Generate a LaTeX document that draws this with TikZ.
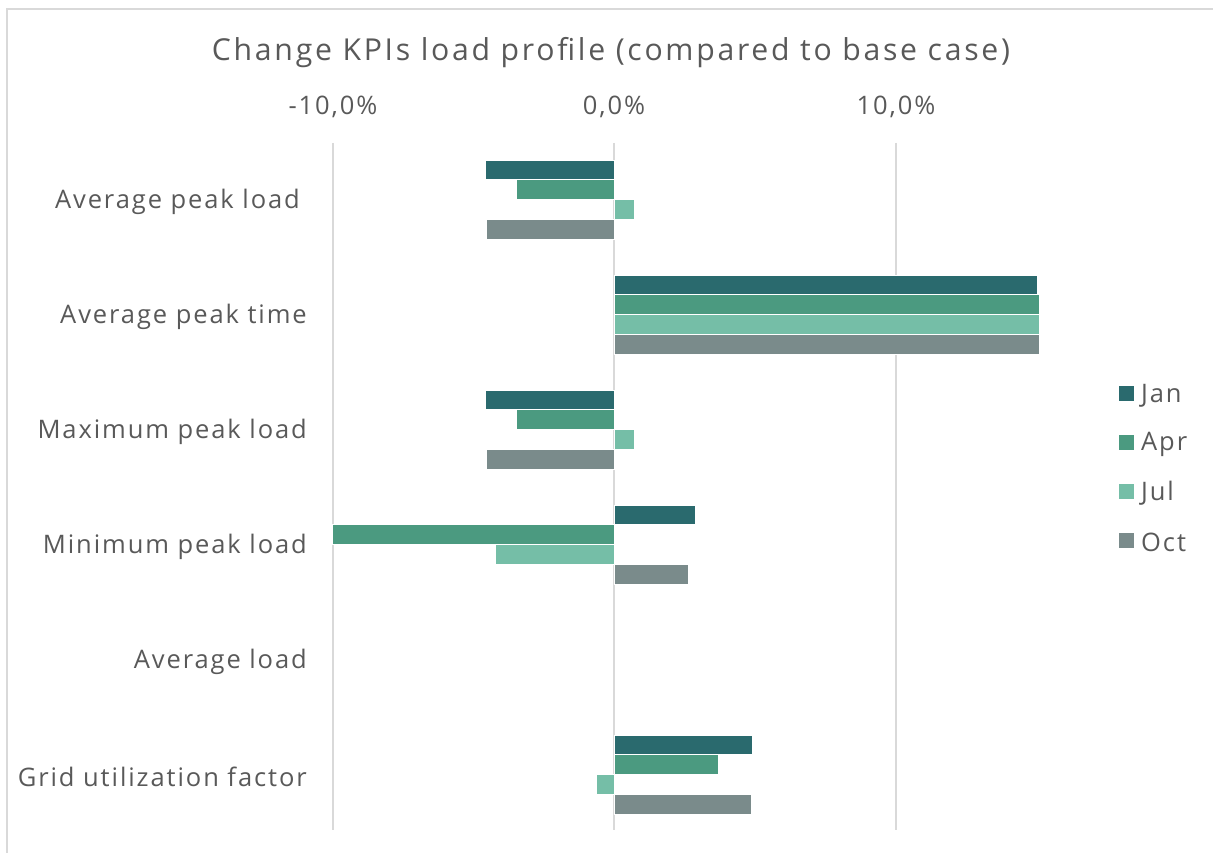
\documentclass[tikz,border=0pt]{standalone}
\usepackage{fontspec}
\setmainfont{Open Sans}[LetterSpace=7.5]
\newfontfamily\titlefont{Open Sans}[LetterSpace=9]
\definecolor{cjan}{HTML}{2A6A6E}
\definecolor{capr}{HTML}{4B9A80}
\definecolor{cjul}{HTML}{75BEA7}
\definecolor{coct}{HTML}{7A8B8B}
\definecolor{txt}{HTML}{595959}
\definecolor{gridc}{HTML}{D9D9D9}
% bar: category index, series index, value in %, colour
\newcommand\kbar[4]{%
  \filldraw[#4, draw=white, line width=0.7]
    (614,{160+115*#1+19.75*#2}) rectangle ({614+28.15*(#3)},{160+115*#1+19.75*(#2+1)});}
\begin{document}
\begin{tikzpicture}[x=1pt,y=-1pt,
  every node/.style={text=txt, inner sep=0pt},
  catlabel/.style={anchor=east, font=\fontsize{25.5}{30}\selectfont},
  ticklabel/.style={font=\fontsize{25.5}{30}\selectfont},
  titlelabel/.style={font=\titlefont\fontsize{30.2}{34}\selectfont},
  legsq/.style={minimum size=15pt, draw=none},
  legtext/.style={anchor=west, font=\fontsize{25.5}{30}\selectfont},
  gridline/.style={draw=gridc, line width=1.6},
  frame/.style={draw=gridc, line width=2}]
\useasboundingbox (0,0) rectangle (1213,853);
\fill[white] (0,0) rectangle (1213,853);
\draw[frame] (6.5,853) -- (6.5,9.5) -- (1213,9.5);

% title and axis labels
\node[titlelabel] (title) at (611,52.5) {Change KPIs load profile (compared to base case)};
\node[ticklabel] (tm10) at (333,106.5) {-10,0\%};
\node[ticklabel] (t0) at (614,106.5) {0,0\%};
\node[ticklabel] (tp10) at (896,106.5) {10,0\%};

% vertical gridlines
\coordinate (gm10) at (333,830);
\coordinate (g0) at (614,830);
\coordinate (gp10) at (896,830);
\draw[gridline] (333,143) -- (gm10);
\draw[gridline] (614,143) -- (g0);
\draw[gridline] (896,143) -- (gp10);

% bars: Jan, Apr, Jul, Oct
\kbar{0}{0}{-4.58}{cjan}
\kbar{0}{1}{-3.48}{capr}
\kbar{0}{2}{0.71}{cjul}
\kbar{0}{3}{-4.55}{coct}

\kbar{1}{0}{15.03}{cjan}
\kbar{1}{1}{15.1}{capr}
\kbar{1}{2}{15.1}{cjul}
\kbar{1}{3}{15.1}{coct}

\kbar{2}{0}{-4.58}{cjan}
\kbar{2}{1}{-3.48}{capr}
\kbar{2}{2}{0.71}{cjul}
\kbar{2}{3}{-4.55}{coct}

\kbar{3}{0}{2.88}{cjan}
\kbar{3}{1}{-10}{capr}
\kbar{3}{2}{-4.23}{cjul}
\kbar{3}{3}{2.63}{coct}

\kbar{5}{0}{4.9}{cjan}
\kbar{5}{1}{3.69}{capr}
\kbar{5}{2}{-0.64}{cjul}
\kbar{5}{3}{4.87}{coct}

% category labels
\node[catlabel] (c0) at (300,202) {Average peak load};
\node[catlabel] (c1) at (307,317) {Average peak time};
\node[catlabel] (c2) at (307,432) {Maximum peak load};
\node[catlabel] (c3) at (307,547) {Minimum peak load};
\node[catlabel] (c4) at (307,662) {Average load};
\node[catlabel] (c5) at (307,777) {Grid utilization factor};

% legend
\node[legsq, fill=cjan] (ljan) at (1126.5,393.5) {};
\node[legsq, fill=capr] (lapr) at (1126.5,442.5) {};
\node[legsq, fill=cjul] (ljul) at (1126.5,491.5) {};
\node[legsq, fill=coct] (loct) at (1126.5,540.5) {};
\node[legtext] (tjan) at (1141,395.5) {Jan};
\node[legtext] (tapr) at (1141,444.5) {Apr};
\node[legtext] (tjul) at (1141,493.5) {Jul};
\node[legtext] (toct) at (1141,542.5) {Oct};
\end{tikzpicture}
\end{document}
